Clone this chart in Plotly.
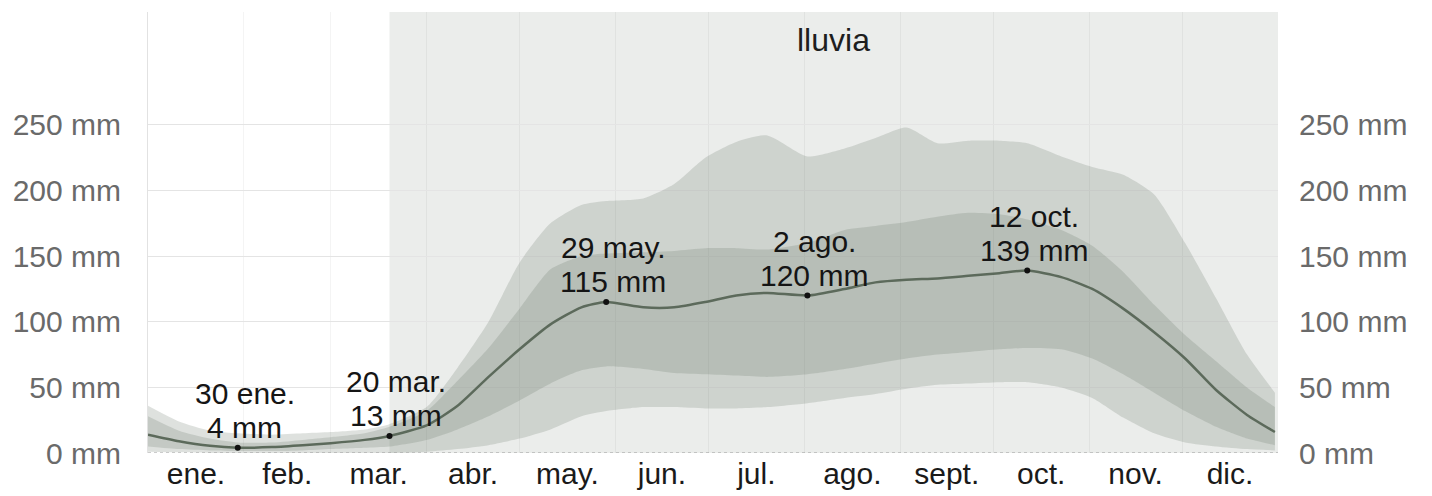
import plotly.graph_objects as go

# ---- data (day of year, 0 = 1 Jan) ----
days = [0, 10, 20, 29, 40, 50, 59, 70, 78, 90, 100, 110, 120, 130, 140, 148,
        160, 170, 180, 190, 200, 213, 225, 235, 245, 255, 265, 275, 284, 295,
        305, 315, 325, 335, 345, 355, 364]
median = [14, 9, 5.5, 4, 4.5, 6, 7.5, 10, 13, 21, 36, 58, 79, 98, 111, 115,
          111, 111, 115, 120, 122, 120, 125, 130, 132, 133, 135, 137, 139, 134,
          125, 110, 92, 72, 48, 29, 16]
p90 = [36, 24, 17, 15, 14, 15, 16, 18, 22, 35, 65, 100, 145, 175, 189, 192,
       194, 205, 225, 237, 242, 226, 232, 240, 248, 236, 238, 238, 236, 226,
       218, 212, 197, 160, 118, 75, 46]
p75 = [28, 17, 11, 8, 8, 10, 12, 15, 20, 32, 55, 80, 110, 140, 150, 152,
       153, 154, 156, 156, 155, 160, 170, 173, 176, 180, 183, 182, 178, 170,
       158, 138, 113, 90, 70, 50, 35]
p25 = [5, 3, 2, 1.5, 1.5, 2, 3, 4, 5, 10, 18, 28, 40, 53, 63, 66,
       64, 61, 60, 59, 58, 60, 64, 68, 72, 75, 77, 79, 80, 79,
       72, 60, 46, 32, 20, 11, 6]
p10 = [1, 0.5, 0, 0, 0, 0, 0, 0, 0, 1, 3, 6, 11, 18, 28, 32,
       35, 35, 34, 34, 35, 38, 42, 45, 49, 52, 53, 54, 54, 50,
       42, 27, 15, 8, 5, 3, 2]

month_labels = ["ene.", "feb.", "mar.", "abr.", "may.", "jun.", "jul.",
                "ago.", "sept.", "oct.", "nov.", "dic."]
month_mid = [15.5, 45, 74.5, 105, 135.5, 166, 196.5, 227.5, 258, 288.5, 319, 349.5]
month_start = [0, 31, 59, 90, 120, 151, 181, 212, 243, 273, 304, 334]
y_ticks = [0, 50, 100, 150, 200, 250]
y_tick_text = ["0 mm", "50 mm", "100 mm", "150 mm", "200 mm", "250 mm"]
wet_season = [78, 365]
year_end = 365
highlight_days = [29, 78, 148, 213, 284]
highlight_dates = ["30 ene.", "20 mar.", "29 may.", "2 ago.", "12 oct."]

FONT = "Liberation Sans, Arial, Helvetica, sans-serif"
band_col = "rgba(100,115,100,0.21)"
line_col = "#5c6a5b"
SPL = dict(shape="spline", smoothing=0.6)

fig = go.Figure()

# 10-90 percentile band
fig.add_trace(go.Scatter(x=days, y=p90, mode="lines", line=dict(width=0, **SPL),
                         hoverinfo="skip", showlegend=False))
fig.add_trace(go.Scatter(x=days, y=p10, mode="lines", line=dict(width=0, **SPL),
                         fill="tonexty", fillcolor=band_col, hoverinfo="skip", showlegend=False))
# 25-75 percentile band
fig.add_trace(go.Scatter(x=days, y=p75, mode="lines", line=dict(width=0, **SPL),
                         hoverinfo="skip", showlegend=False))
fig.add_trace(go.Scatter(x=days, y=p25, mode="lines", line=dict(width=0, **SPL),
                         fill="tonexty", fillcolor=band_col, hoverinfo="skip", showlegend=False))
# median
fig.add_trace(go.Scatter(x=days, y=median, mode="lines", line=dict(color=line_col, width=2.5, **SPL),
                         hoverinfo="skip", showlegend=False))

# highlighted points
hl_vals = [median[days.index(d)] for d in highlight_days]
fig.add_trace(go.Scatter(x=highlight_days, y=hl_vals, mode="markers",
                         marker=dict(color="#111", size=6), hoverinfo="skip", showlegend=False))
ann_font = dict(family=FONT, size=30, color="#151515")
for d, v, t in zip(highlight_days, hl_vals, highlight_dates):
    fig.add_annotation(x=d, y=v, text=f"{v:g} mm", showarrow=False, yanchor="bottom",
                       xanchor="center", yshift=2, xshift=7, font=ann_font)
    fig.add_annotation(x=d, y=v, text=t, showarrow=False, yanchor="bottom",
                       xanchor="center", yshift=36, xshift=7, font=ann_font)

# invisible traces for the extra axes
fig.add_trace(go.Scatter(x=days, y=median, yaxis="y2", mode="lines", opacity=0,
                         hoverinfo="skip", showlegend=False))
fig.add_trace(go.Scatter(x=[0], y=[0], yaxis="y3", mode="markers", opacity=0,
                         hoverinfo="skip", showlegend=False))

# wet season shading
fig.add_vrect(x0=wet_season[0], x1=wet_season[1], fillcolor="#ebedeb", line_width=0, layer="below")
fig.add_annotation(x=(wet_season[0] + wet_season[1]) / 2, y=0.937, yref="paper", text="lluvia",
                   showarrow=False, yanchor="middle", font=dict(family=FONT, size=32, color="#1e1e1e"))

# dotted baseline
fig.add_shape(type="line", xref="x domain", x0=0, x1=1, yref="y", y0=0, y1=0,
              line=dict(color="#9a9a9a", width=1.2, dash="dot"), layer="above")

yr = [0, 336]
tick_font = dict(family=FONT, size=30, color="#6a6a6a")
# the page body adds an 8px offset, so the figure is 8px smaller on each axis
fig.update_layout(
    width=1424, height=488,
    margin=dict(l=140, r=154, t=4, b=43),
    paper_bgcolor="white", plot_bgcolor="white",
    xaxis=dict(range=[0, year_end], tickmode="array", tickvals=month_mid, ticktext=month_labels,
               showgrid=False, zeroline=False, ticks="", automargin=False,
               tickfont=dict(family=FONT, size=30, color="#1a1a1a"),
               minor=dict(tickmode="array", tickvals=month_start, showgrid=True,
                          gridcolor="rgba(0,0,0,0.045)", gridwidth=1, ticks="")),
    yaxis=dict(range=yr, tickmode="array", tickvals=y_ticks, ticktext=y_tick_text,
               showgrid=False, zeroline=False, showline=True, linecolor="#e2e2e2", linewidth=1,
               ticks="outside", ticklen=20, tickcolor="rgba(0,0,0,0)", automargin=False,
               tickfont=tick_font),
    yaxis2=dict(range=yr, overlaying="y", side="right", tickmode="array", tickvals=y_ticks,
                ticktext=y_tick_text, showgrid=False, zeroline=False, automargin=False,
                ticks="outside", ticklen=14, tickcolor="rgba(0,0,0,0)",
                tickfont=tick_font),
    yaxis3=dict(range=yr, overlaying="y", side="left", tickmode="array", tickvals=y_ticks[1:],
                showticklabels=False, showgrid=True, gridcolor="#e4e4e4", gridwidth=1,
                zeroline=False, automargin=False),
)

fig.write_html("out.html")
